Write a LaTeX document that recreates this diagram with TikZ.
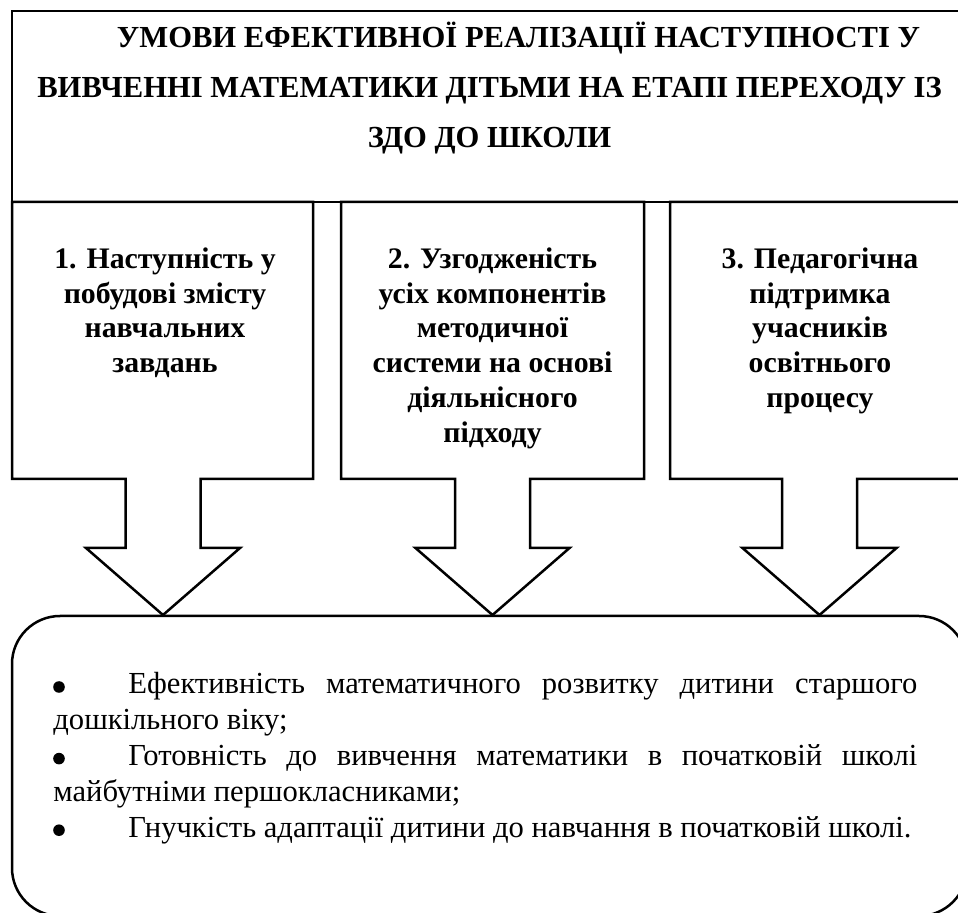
\documentclass[tikz,border=0pt]{standalone}
\usepackage{fontspec}
\setmainfont{Liberation Serif}
\begin{document}
\begin{tikzpicture}[x=0.5pt,y=-0.5pt,
  shapeline/.style={draw=black,line width=1.25pt,line join=miter},
  titletext/.style={font=\fontsize{15.3}{25}\selectfont\bfseries,align=center,inner sep=0pt,anchor=north},
  coltext/.style={font=\fontsize{14.9}{17.4}\selectfont\bfseries,align=center,inner sep=0pt,anchor=north},
  bodytext/.style={font=\fontsize{15.3}{18}\selectfont,inner sep=0pt,anchor=base west},
  bulletdot/.style={fill=black}]
\clip (0,0) rectangle (958,913);
\fill[white] (0,0) rectangle (958,913);
% title box
\draw[shapeline] (12,11) rectangle (967,202);
\node[titletext] (title) at (489.5,19) {\rule{0pt}{14pt}\hspace*{29pt}УМОВИ ЕФЕКТИВНОЇ РЕАЛІЗАЦІЇ НАСТУПНОСТІ У\\ВИВЧЕННІ МАТЕМАТИКИ ДІТЬМИ НА ЕТАПІ ПЕРЕХОДУ ІЗ\\ЗДО ДО ШКОЛИ};
% callout boxes with block arrows
\draw[shapeline] (12,202) -- (12,479) -- (125.5,479) -- (125.5,548) -- (86,548) -- (163,615) -- (240,548) -- (200.5,548) -- (200.5,479) -- (313,479) -- (313,202) -- cycle;
\draw[shapeline] (341,202) -- (341,479) -- (455,479) -- (455,548) -- (415.5,548) -- (492.5,615) -- (569.5,548) -- (530,548) -- (530,479) -- (644,479) -- (644,202) -- cycle;
\draw[shapeline] (670,202) -- (670,479) -- (782,479) -- (782,548) -- (742.5,548) -- (819.5,615) -- (896.5,548) -- (857,548) -- (857,479) -- (967,479) -- (967,202) -- cycle;
\node[coltext] (c1) at (165,244) {\rule{0pt}{12pt}1. Наступність у\\побудові змісту\\навчальних\\завдань};
\node[coltext] (c2) at (492.5,244) {\rule{0pt}{12pt}2. Узгодженість\\усіх компонентів\\методичної\\системи на основі\\діяльнісного\\підходу};
\node[coltext] (c3) at (820,244) {\rule{0pt}{12pt}3. Педагогічна\\підтримка\\учасників\\освітнього\\процесу};
% bottom rounded box
\draw[shapeline,rounded corners=24pt] (12,616) rectangle (967,916);
\coordinate (bottom) at (489.5,766);
\fill[bulletdot] (59,687) circle (2.9pt);
\fill[bulletdot] (59,758.6) circle (2.9pt);
\fill[bulletdot] (59,830.2) circle (2.9pt);
\node[bodytext] (l1) at (128,694) {\makebox[394.5pt][s]{Ефективність математичного розвитку дитини старшого}};
\node[bodytext] (l2) at (53,729.8) {дошкільного віку;};
\node[bodytext] (l3) at (128,765.6) {\makebox[394.5pt][s]{Готовність до вивчення математики в початковій школі}};
\node[bodytext] (l4) at (53,801.4) {майбутніми першокласниками;};
\node[bodytext] (l5) at (128,837.2) {Гнучкість адаптації дитини до навчання в початковій школі.};
\end{tikzpicture}
\end{document}
